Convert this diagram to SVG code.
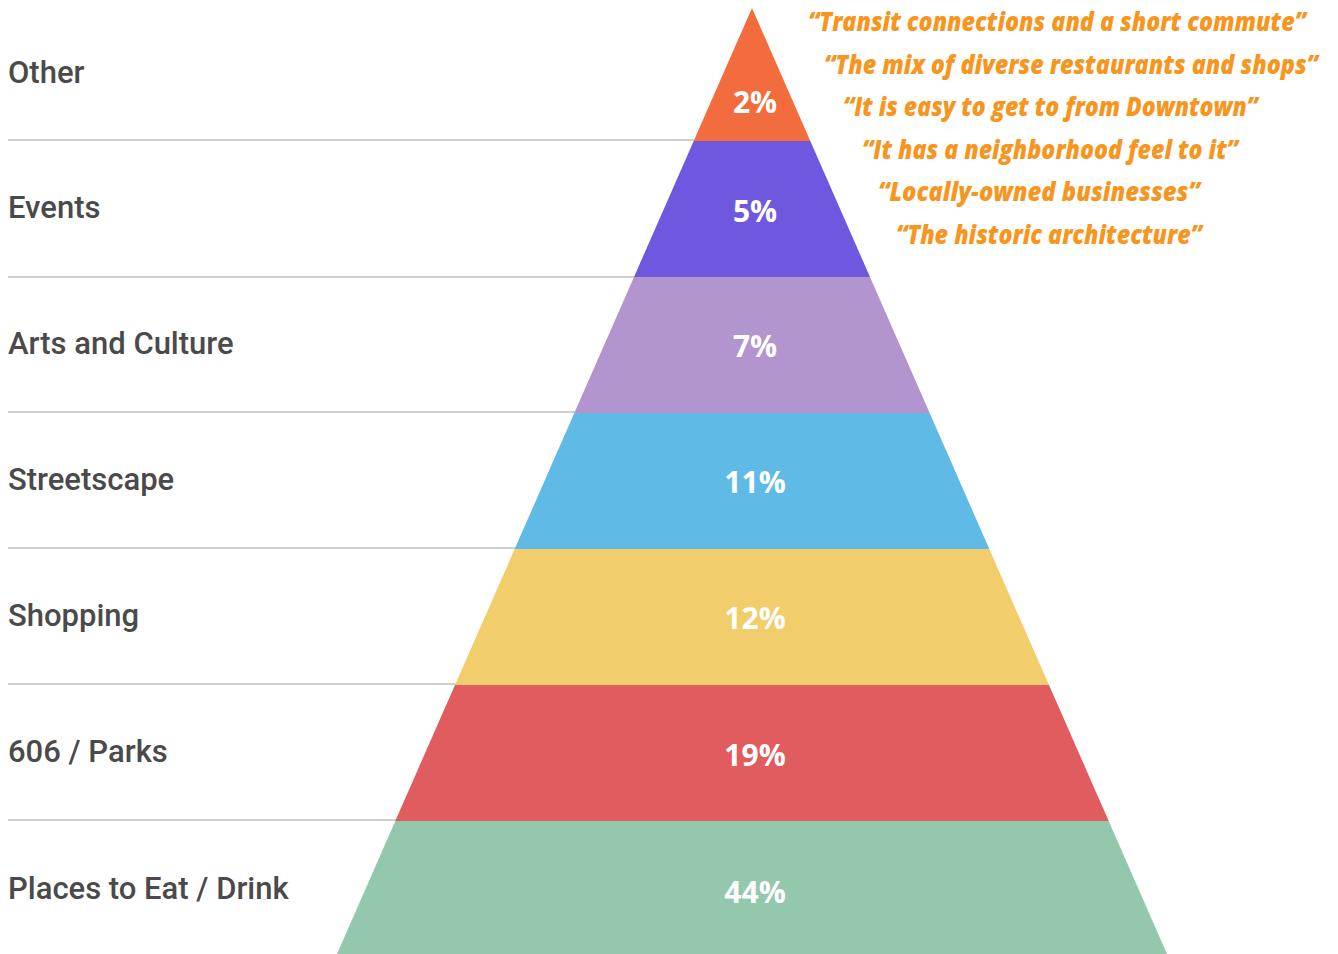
<svg xmlns="http://www.w3.org/2000/svg" width="1338" height="954" viewBox="0 0 1338 954">
<style>
.lbl{font-family:Roboto,"Liberation Sans",sans-serif;font-weight:500;font-size:31px;fill:#4a4a4a;}
.pct{font-family:"Open Sans","Liberation Sans",sans-serif;font-weight:700;font-size:30px;fill:#ffffff;text-anchor:middle;}
.q{font-family:"Open Sans","Liberation Sans",sans-serif;font-weight:800;font-style:italic;font-size:26px;fill:#F7961F;}
.sep{stroke:#cfcfcf;stroke-width:2;}
</style>
<rect x="0" y="0" width="1338" height="954" fill="#ffffff"/>
<g id="connectors">
<line class="sep" x1="8" y1="140" x2="700" y2="140"/>
<line class="sep" x1="8" y1="277" x2="640" y2="277"/>
<line class="sep" x1="8" y1="412" x2="580" y2="412"/>
<line class="sep" x1="8" y1="548" x2="520" y2="548"/>
<line class="sep" x1="8" y1="684" x2="460" y2="684"/>
<line class="sep" x1="8" y1="820" x2="400" y2="820"/>
</g>
<g id="band-other">
<polygon points="752,8 810.3,141 693.7,141" fill="#F36C3D"/>
<text class="lbl" x="8" y="83">Other</text>
<text class="pct" x="755" y="113">2%</text>
</g>
<g id="band-events">
<polygon points="693.7,141 810.3,141 870,277 634,277" fill="#6F58DF"/>
<text class="lbl" x="8" y="218">Events</text>
<text class="pct" x="755" y="222">5%</text>
</g>
<g id="band-arts">
<polygon points="634,277 870,277 929.7,413 574.3,413" fill="#B295CF"/>
<text class="lbl" x="8" y="354">Arts and Culture</text>
<text class="pct" x="755" y="357">7%</text>
</g>
<g id="band-streetscape">
<polygon points="574.3,413 929.7,413 989.3,549 514.7,549" fill="#60BAE6"/>
<text class="lbl" x="8" y="490">Streetscape</text>
<text class="pct" x="755" y="493">11%</text>
</g>
<g id="band-shopping">
<polygon points="514.7,549 989.3,549 1049,685 455,685" fill="#F1CD6B"/>
<text class="lbl" x="8" y="626">Shopping</text>
<text class="pct" x="755" y="629">12%</text>
</g>
<g id="band-parks">
<polygon points="455,685 1049,685 1108.7,821 395.3,821" fill="#E05C5E"/>
<text class="lbl" x="8" y="762">606 / Parks</text>
<text class="pct" x="755" y="766">19%</text>
</g>
<g id="band-eat">
<polygon points="395.3,821 1108.7,821 1167,954 337,954" fill="#94C8AD"/>
<text class="lbl" x="8" y="899">Places to Eat / Drink</text>
<text class="pct" x="755" y="903">44%</text>
</g>
<g id="quotes">
<text class="q" x="808" y="31" textLength="498" lengthAdjust="spacingAndGlyphs">“Transit connections and a short commute”</text>
<text class="q" x="824" y="74" textLength="494" lengthAdjust="spacingAndGlyphs">“The mix of diverse restaurants and shops”</text>
<text class="q" x="843" y="116" textLength="415" lengthAdjust="spacingAndGlyphs">“It is easy to get to from Downtown”</text>
<text class="q" x="862" y="159" textLength="376" lengthAdjust="spacingAndGlyphs">“It has a neighborhood feel to it”</text>
<text class="q" x="878" y="201" textLength="322" lengthAdjust="spacingAndGlyphs">“Locally-owned businesses”</text>
<text class="q" x="896" y="244" textLength="306" lengthAdjust="spacingAndGlyphs">“The historic architecture”</text>
</g>
</svg>
